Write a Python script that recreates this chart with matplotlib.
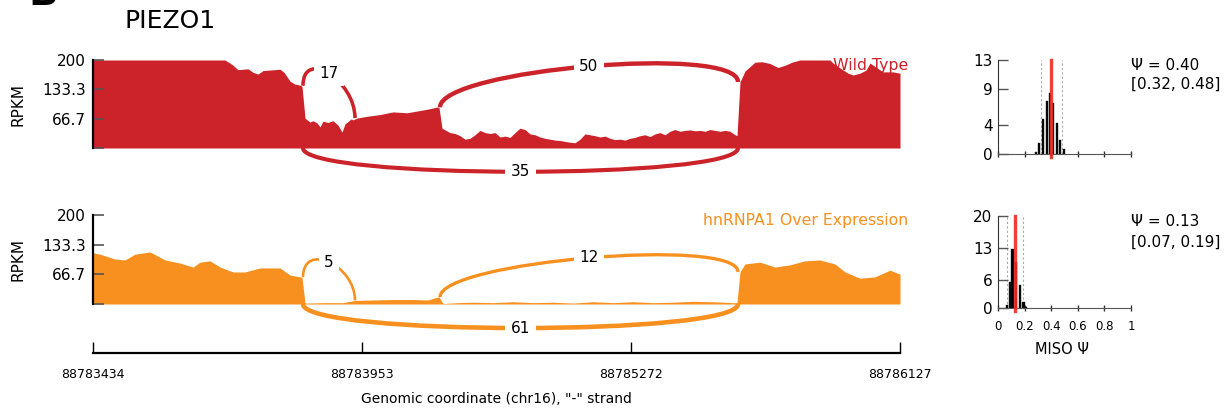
import numpy as np
import matplotlib
matplotlib.use("Agg")
import matplotlib.pyplot as plt
from matplotlib.path import Path
from matplotlib.patches import PathPatch

W, H = 1231, 413

gene_name = "PIEZO1"
sample_names = ["Wild Type", "hnRNPA1 Over Expression"]
sample_colors = ["#cc2229", "#f7901e"]

# intron-scaled track position and read coverage (RPKM)
wt_pos = [0, 132, 139, 145, 155, 160, 165, 170, 182, 187, 191, 197, 202, 207, 209,
          212, 214, 217, 220, 224, 227, 230, 235, 240, 245, 249, 252, 255, 258, 260,
          264, 274, 287, 300, 314, 324, 334, 344, 346,
          349, 353, 357, 362, 367, 372, 377, 382, 387, 392, 397, 402, 407, 412, 417,
          422, 427, 432, 437, 442, 447, 452, 457, 462, 467, 472, 477, 482, 487, 492,
          497, 502, 507, 512, 517, 522, 527, 532, 537, 542, 547, 552, 557, 562, 567,
          572, 577, 582, 587, 592, 597, 602, 607, 612, 617, 622, 627, 632, 637, 642, 644,
          647, 652, 657, 662, 669, 677, 685, 692, 699, 707, 737, 740, 747, 753, 755,
          760, 767, 773, 777, 784, 790, 800, 807]
wt_rpkm = [200, 200, 190, 178, 180, 172, 168, 176, 178, 179, 172, 152, 145, 143, 140,
           68, 64, 59, 62, 57, 48, 61, 58, 62, 52, 36, 55, 60, 66, 64,
           68, 72, 76, 82, 80, 84, 88, 93, 92,
           45, 40, 35, 33, 28, 20, 22, 30, 40, 35, 33, 35, 25, 27, 24,
           35, 45, 42, 32, 30, 25, 22, 20, 18, 17, 15, 13, 12, 20, 32,
           30, 28, 25, 27, 22, 19, 20, 18, 22, 24, 28, 30, 26, 32, 35,
           30, 38, 42, 38, 40, 41, 39, 40, 38, 42, 40, 38, 40, 38, 30, 28,
           150, 175, 185, 195, 196, 192, 183, 188, 195, 200, 200, 193, 182, 173, 170,
           166, 170, 177, 193, 182, 173, 173, 170]

oe_pos = [0, 7, 22, 32, 42, 57, 72, 87, 100, 107, 117, 127, 140, 152, 167, 187, 197,
          207, 209, 212, 230, 250, 262, 280, 300, 320, 335, 342, 346,
          350, 365, 380, 400, 420, 440, 460, 480, 500, 520, 540, 560, 580, 600, 620,
          640, 644, 647, 652, 667, 682, 697, 712, 727, 742, 752, 767, 782, 797, 807]
oe_rpkm = [115, 112, 101, 99, 112, 117, 99, 92, 83, 94, 97, 83, 72, 72, 81, 81, 65,
           61, 60, 2, 3, 3, 8, 9, 10, 10, 9, 14, 16,
           1, 3, 4, 3, 5, 3, 4, 2, 5, 3, 5, 3, 4, 6, 5,
           3, 3, 72, 90, 94, 83, 88, 97, 99, 90, 72, 58, 61, 76, 67]

junc_start = [210, 210, 347]
junc_end = [262, 645, 645]
wt_counts = [17, 35, 50]
oe_counts = [5, 61, 12]

coord_ticks = [0, 269, 538, 807]
coord_labels = ["88783434", "88783953", "88785272", "88786127"]
rpkm_ticks = [0, 66.7, 133.3, 200]
rpkm_labels = ["", "66.7", "133.3", "200"]

# MISO posterior histograms
wt_psi_bins = [0.285, 0.308, 0.341, 0.368, 0.393, 0.416, 0.443, 0.469, 0.494]
wt_psi_freq = [0.3, 1.5, 4.8, 7.3, 8.4, 7.0, 4.3, 1.9, 0.7]
oe_psi_bins = [0.065, 0.087, 0.109, 0.137, 0.168, 0.192, 0.212]
oe_psi_freq = [0.6, 5.6, 12.9, 10.1, 4.9, 1.3, 0.3]
psi_mean = [0.40, 0.13]
psi_low = [0.32, 0.07]
psi_high = [0.48, 0.19]
hist_ymax = [13, 20]
hist_yticks = [[0, 4, 9, 13], [0, 6, 13, 20]]


def box(l, t, r, b):
    return [l / W, 1 - b / H, (r - l) / W, (b - t) / H]


def sashimi(ax, pos, cov, counts, color, name, arc_h):
    ax.fill_between(pos, cov, 0, color=color, lw=0, zorder=1)
    ax.set_xlim(0, 807)
    ax.set_ylim(0, 200)
    ax.patch.set_visible(False)
    for s in ["top", "right", "bottom"]:
        ax.spines[s].set_visible(False)
    ax.spines["left"].set_linewidth(1.6)
    ax.set_xticks([])
    ax.set_yticks(rpkm_ticks)
    ax.set_yticklabels(rpkm_labels, fontsize=11)
    ax.tick_params(axis="y", direction="in", length=8, width=1.2, color="#555555", pad=5)
    ax.set_ylabel("RPKM", fontsize=11)
    ax.yaxis.set_label_coords(-0.084, 0.5)

    for i, (s, e, n) in enumerate(zip(junc_start, junc_end, counts)):
        lw = 1.0 + 0.55 * np.log(n)
        if i % 2 == 0:
            y1 = np.interp(s - 2, pos, cov)
            y2 = np.interp(e + 2, pos, cov)
            h = arc_h
        else:
            y1 = y2 = 0
            h = -72
        verts = [(s, y1), (s, y1 + h), (e, y2 + h), (e, y2)]
        codes = [Path.MOVETO, Path.CURVE4, Path.CURVE4, Path.CURVE4]
        ax.add_patch(PathPatch(Path(verts, codes), fc="none", ec=color, lw=lw,
                               clip_on=False, zorder=3))
        ax.text((s + e) / 2, (y1 + y2) / 2 + 0.75 * h, str(n), fontsize=11,
                ha="center", va="center", zorder=5, clip_on=False,
                bbox=dict(boxstyle="square,pad=0.35", fc="white", ec="none"))

    # sample name sits behind the coverage, as in the original
    ax.text(1.01, 0.943, name, transform=ax.transAxes, ha="right", va="center",
            fontsize=11.3, color=color, zorder=0.5)


def psi_hist(ax, bins, freq, mean, low, high, ymax, yticks, show_x):
    ax.bar(bins, freq, width=0.016, color="black", edgecolor="#222222", lw=0.3, zorder=2)
    ax.axvline(low, color="#aaaaaa", lw=0.8, ls=(0, (2, 2)), zorder=1)
    ax.axvline(high, color="#aaaaaa", lw=0.8, ls=(0, (2, 2)), zorder=1)
    ax.axvline(mean, color="#ee2a24", lw=2.4, alpha=0.9, zorder=3, ymin=-0.03,
               clip_on=False)
    ax.set_xlim(0, 1)
    ax.set_ylim(0, ymax)
    ax.patch.set_visible(False)
    ax.spines["top"].set_visible(False)
    ax.spines["right"].set_visible(False)
    ax.spines["left"].set_color("#333333")
    ax.spines["bottom"].set_color("#555555")
    ax.set_yticks(yticks)
    ax.tick_params(axis="y", direction="in", length=7, width=1.0, color="#555555",
                   labelsize=11, pad=4)
    ax.set_xticks([0, 0.2, 0.4, 0.6, 0.8, 1])
    ax.tick_params(axis="x", direction="inout", length=4, width=1.0, color="#333333",
                   labelsize=8.5, pad=7)
    if show_x:
        ax.set_xticklabels(["0", "0.2", "0.4", "0.6", "0.8", "1"])
    else:
        ax.set_xticklabels([])


fig = plt.figure(figsize=(W / 100, H / 100), dpi=100)

ax1 = fig.add_axes(box(93, 60, 900, 148))
sashimi(ax1, wt_pos, wt_rpkm, wt_counts, sample_colors[0], sample_names[0], 86)
ax2 = fig.add_axes(box(93, 215, 900, 304))
sashimi(ax2, oe_pos, oe_rpkm, oe_counts, sample_colors[1], sample_names[1], 80)

# genomic coordinate axis
axg = fig.add_axes(box(93, 330, 900, 353))
axg.set_xlim(0, 807)
axg.set_ylim(0, 1)
axg.patch.set_visible(False)
for s in ["top", "right", "left"]:
    axg.spines[s].set_visible(False)
axg.spines["bottom"].set_linewidth(1.6)
axg.set_yticks([])
axg.set_xticks(coord_ticks)
axg.set_xticklabels(coord_labels, fontsize=9)
axg.tick_params(axis="x", direction="in", length=8, width=1.0, pad=11)
axg.set_xlabel('Genomic coordinate (chr16), "-" strand', fontsize=10, labelpad=8)

h1 = fig.add_axes(box(998, 60, 1131, 154))
psi_hist(h1, wt_psi_bins, wt_psi_freq, psi_mean[0], psi_low[0], psi_high[0],
         hist_ymax[0], hist_yticks[0], False)
h2 = fig.add_axes(box(998, 216, 1131, 308))
psi_hist(h2, oe_psi_bins, oe_psi_freq, psi_mean[1], psi_low[1], psi_high[1],
         hist_ymax[1], hist_yticks[1], True)
fig.text(1062 / W, 1 - 350 / H, "MISO \u03a8", fontsize=10.5, ha="center", va="center")

for k, (ytop, ybot) in enumerate([(66, 84), (222, 242)]):
    fig.text(1131 / W, 1 - ytop / H, "\u03a8 = %.2f" % psi_mean[k], fontsize=11,
             ha="left", va="center")
    fig.text(1131 / W, 1 - ybot / H, "[%.2f, %.2f]" % (psi_low[k], psi_high[k]),
             fontsize=11, ha="left", va="center")

fig.text(125 / W, 1 - 21 / H, gene_name, fontsize=18, ha="left", va="center")
# panel letter, cut by the top edge like in the source figure
fig.text(28 / W, 1 - 5 / H, "B", fontsize=28, fontweight="bold", ha="left", va="baseline")

fig.savefig("out.png", dpi=100)
